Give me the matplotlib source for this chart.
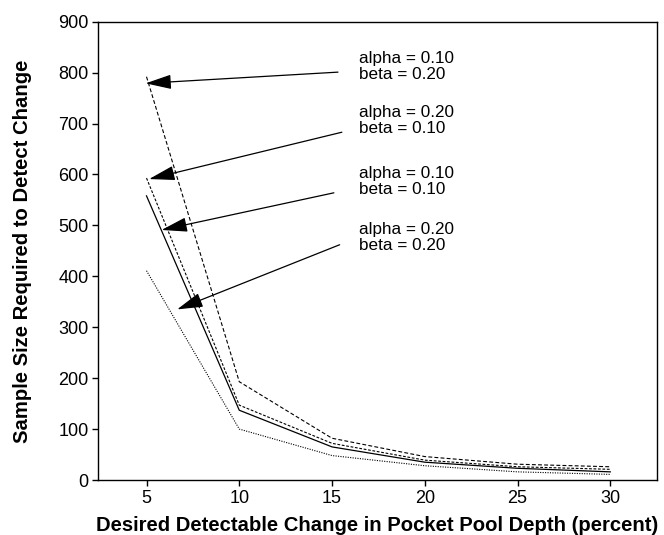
import matplotlib

matplotlib.use("Agg")
import matplotlib.pyplot as plt

plt.rcParams["font.family"] = ["Liberation Sans", "DejaVu Sans"]

# desired detectable change (percent)
change = [5, 10, 15, 20, 25, 30]

# sample size required, one series per alpha/beta combination
a10_b20 = [792, 193, 82, 46, 31, 26]
a20_b10 = [593, 147, 72, 39, 26, 21]
a10_b10 = [558, 137, 65, 35, 23, 16]
a20_b20 = [411, 100, 48, 28, 16, 11]

labels = [
    "alpha = 0.10\nbeta = 0.20",
    "alpha = 0.20\nbeta = 0.10",
    "alpha = 0.10\nbeta = 0.10",
    "alpha = 0.20\nbeta = 0.20",
]
# arrow tips (x, y) and text anchor for each label
tips = [(4.95, 779), (5.14, 591), (5.81, 491), (6.65, 335)]
tails = [(15.32, 801), (15.53, 683), (15.10, 564), (15.41, 462)]
text_y = [812, 706, 586, 476]

fig = plt.figure(figsize=(6.64, 5.35), dpi=100)
ax = fig.add_axes([0.148, 0.1028, 0.841, 0.8566])

ax.plot(change, a10_b20, color="black", lw=0.8, ls=(0, (3.5, 2)))
ax.plot(change, a20_b10, color="black", lw=0.8, ls=(0, (2.5, 1.5)))
ax.plot(change, a10_b10, color="black", lw=0.9, ls="-")
ax.plot(change, a20_b20, color="black", lw=0.8, ls=(0, (1, 1.2)))

for lab, tip, tail, ty in zip(labels, tips, tails, text_y):
    ax.annotate(
        "",
        xy=tip,
        xytext=tail,
        arrowprops=dict(
            arrowstyle="-|>,head_length=1.6,head_width=0.45",
            color="black",
            lw=0.9,
            shrinkA=0,
            shrinkB=0,
        ),
    )
    ax.text(16.48, ty, lab, fontsize=12.3, va="center", ha="left", linespacing=1.05)

ax.set_xlim(2.4, 32.5)
ax.set_ylim(0, 900)
ax.set_xticks(change)
ax.set_yticks(range(0, 901, 100))
ax.tick_params(direction="out", length=4, width=1, labelsize=13, pad=3)
for s in ax.spines.values():
    s.set_linewidth(1.0)

ax.set_xlabel("Desired Detectable Change in Pocket Pool Depth (percent)", fontsize=14.6, fontweight="bold", labelpad=7)
ax.set_ylabel("Sample Size Required to Detect Change", fontsize=14.6, fontweight="bold", labelpad=19)

fig.savefig("out.png", dpi=100)
